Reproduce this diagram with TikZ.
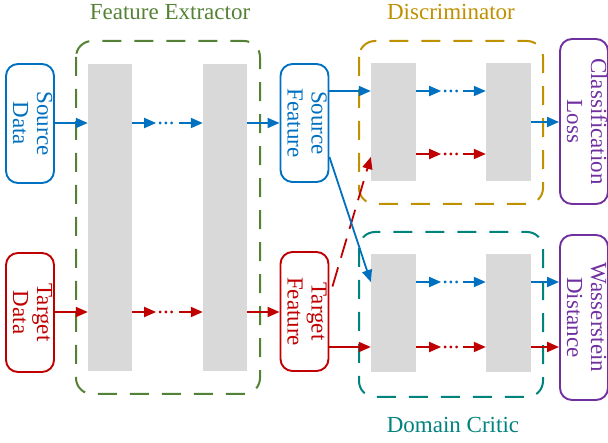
\documentclass[tikz,border=0pt]{standalone}
\usepackage{fontspec}
\setmainfont{Liberation Serif}
\usetikzlibrary{arrows.meta,calc}
\definecolor{cblue}{HTML}{0070C0}
\definecolor{cred}{HTML}{C00000}
\definecolor{cgreen}{HTML}{548235}
\definecolor{cgold}{HTML}{BF9000}
\definecolor{cteal}{HTML}{00827D}
\definecolor{cpurple}{HTML}{7030A0}
\definecolor{barg}{HTML}{D9D9D9}
\newcommand{\vtext}[2]{\rotatebox{-90}{\begin{tabular}{@{}c@{}}#1\\#2\end{tabular}}}
\begin{document}
\begin{tikzpicture}[x=1pt,y=-1pt,
  bar/.style={fill=barg, draw=none, minimum width=44pt, inner sep=0pt},
  io/.style={draw, line width=1.9pt, rounded corners=12pt, minimum width=44pt, inner sep=0pt, font=\fontsize{23}{24}\selectfont},
  grp/.style={line width=2pt, dash pattern=on 19pt off 13pt, rounded corners=16pt},
  conn/.style={line width=1.8pt, -{Triangle[length=12pt,width=10pt]}},
  title/.style={font=\fontsize{23}{24}\selectfont, anchor=base, inner sep=0pt},
  dots/.style={font=\fontsize{23}{24}\selectfont, inner sep=0pt}
]
\useasboundingbox (0,0) rectangle (608,443);

% group boxes
\draw[grp, cgreen] (76,41) rectangle (260,394);
\draw[grp, cgold] (359,41) rectangle (543,204);
\draw[grp, cteal] (359,232) rectangle (543,397);
\node[title, text=cgreen] (tfe) at (170,20) {Feature Extractor};
\node[title, text=cgold] (tdi) at (451,20) {Discriminator};
\node[title, text=cteal] (tdc) at (453,433) {Domain Critic};

% bars
\node[bar, minimum height=307pt] (fb1) at (110,217.5) {};
\node[bar, minimum height=307pt] (fb2) at (225,217.5) {};
\node[bar, minimum height=118pt, minimum width=45pt] (db1) at (393.5,122) {};
\node[bar, minimum height=118pt, minimum width=45pt] (db2) at (508.5,122) {};
\node[bar, minimum height=118pt, minimum width=45pt] (cb1) at (393.5,313) {};
\node[bar, minimum height=118pt, minimum width=45pt] (cb2) at (508.5,313) {};

% io nodes
\node[io, draw=cblue, text=cblue, minimum height=119pt] (sd) at (30,123.5) {\vtext{Source}{Data}};
\node[io, draw=cred, text=cred, minimum height=119pt] (td) at (30,312.5) {\vtext{Target}{Data}};
\node[io, draw=cblue, text=cblue, minimum height=118pt] (sf) at (304.5,123) {\vtext{Source}{Feature}};
\node[io, draw=cred, text=cred, minimum height=119pt] (tf) at (304.5,311.5) {\vtext{Target}{Feature}};
\node[io, draw=cpurple, text=cpurple, minimum height=165pt] (cl) at (584,121.5) {\vtext{Classification}{Loss}};
\node[io, draw=cpurple, text=cpurple, minimum height=165pt] (wd) at (584,317.5) {\vtext{Wasserstein}{Distance}};

% dots
\node[dots, text=cblue] (fdb) at (166,123) {...};
\node[dots, text=cred] (fdr) at (166,312) {...};
\node[dots, text=cblue] (ddb) at (451,91) {...};
\node[dots, text=cred] (ddr) at (451,154) {...};
\node[dots, text=cblue] (cdb) at (451,282) {...};
\node[dots, text=cred] (cdr) at (451,347) {...};

% feature extractor rows
\draw[conn, cblue] (sd.east |- fdb) -- (fb1.west |- fdb);
\draw[conn, cblue] (fb1.east |- fdb) -- ([xshift=-1pt]fdb.west);
\draw[conn, cblue] ([xshift=4pt]fdb.east) -- (fb2.west |- fdb);
\draw[conn, cblue] (fb2.east |- fdb) -- (sf.west |- fdb);
\draw[conn, cred] (td.east |- fdr) -- (fb1.west |- fdr);
\draw[conn, cred] (fb1.east |- fdr) -- ([xshift=-1pt]fdr.west);
\draw[conn, cred] ([xshift=4pt]fdr.east) -- (fb2.west |- fdr);
\draw[conn, cred] (fb2.east |- fdr) -- (tf.west |- fdr);

% discriminator
\draw[conn, cblue] (sf.east |- ddb) -- (db1.west |- ddb);
\draw[conn, cblue] (db1.east |- ddb) -- ([xshift=-1pt]ddb.west);
\draw[conn, cblue] ([xshift=3pt]ddb.east) -- (db2.west |- ddb);
\draw[conn, cred] (db1.east |- ddr) -- ([xshift=-1pt]ddr.west);
\draw[conn, cred] ([xshift=3pt]ddr.east) -- (db2.west |- ddr);
\draw[conn, cblue] (db2.east) -- (cl.west |- db2.east);
\draw[conn, cred, dash pattern=on 20pt off 10pt] ($(tf.east)+(3,-25)$) -- ($(db1.west)+(0,35)$);

% domain critic
\draw[conn, cblue] ($(sf.east)+(0,34)$) -- (cb1.west |- cdb);
\draw[conn, cblue] (cb1.east |- cdb) -- ([xshift=-1pt]cdb.west);
\draw[conn, cblue] ([xshift=3pt]cdb.east) -- (cb2.west |- cdb);
\draw[conn, cblue] (cb2.east |- cdb) -- (wd.west |- cdb);
\draw[conn, cred] (tf.east |- cdr) -- (cb1.west |- cdr);
\draw[conn, cred] (cb1.east |- cdr) -- ([xshift=-1pt]cdr.west);
\draw[conn, cred] ([xshift=3pt]cdr.east) -- (cb2.west |- cdr);
\draw[conn, cred] (cb2.east |- cdr) -- (wd.west |- cdr);
\end{tikzpicture}
\end{document}
